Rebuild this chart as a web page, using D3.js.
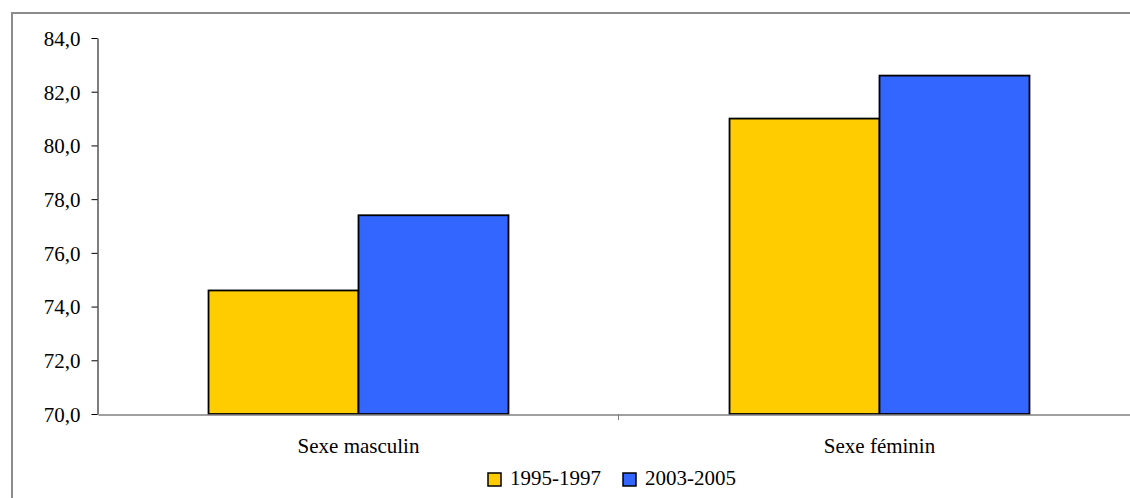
<!DOCTYPE html>
<html>
<head>
<meta charset="utf-8">
<script src="https://cdn.jsdelivr.net/npm/d3@7"></script>
<style>
  body { margin: 0; background: #fff; }
</style>
</head>
<body>
<script>
const w = 1130;
const h = 498;

const categories = ["Sexe masculin", "Sexe féminin"];
const series = ["1995-1997", "2003-2005"];
const values1995 = [74.6, 81.0];
const values2003 = [77.4, 82.6];
const yTicks = [70, 72, 74, 76, 78, 80, 82, 84];

const colors = ["#FFCC00", "#3366FF"];
const serif = "'Times New Roman', Times, Tinos, 'Liberation Serif', 'DejaVu Serif', 'Noto Serif', serif";

const plotLeft = 98;
const plotRight = 1140;
const plotTop = 38;
const plotBottom = 414;

const svg = d3.select("body")
  .append("svg")
  .attr("width", w)
  .attr("height", h);

// outer frame (runs off the right and bottom edges)
svg.append("rect")
  .attr("x", 12)
  .attr("y", 13)
  .attr("width", 1200)
  .attr("height", 600)
  .attr("fill", "none")
  .attr("stroke", "#8c8c8c")
  .attr("stroke-width", 2);

const y = d3.scaleLinear().domain([70, 84]).range([plotBottom, plotTop]);
const x0 = d3.scaleBand().domain(categories).range([plotLeft, plotRight]).padding(0);
const x1 = d3.scaleBand().domain(series).range([0, x0.bandwidth()])
  .paddingInner(0).paddingOuter(0.737);

const fmt = d => d.toFixed(1).replace(".", ",");

// y axis
const yAxis = svg.append("g")
  .attr("transform", "translate(" + (plotLeft - 0.5) + ",0)")
  .call(d3.axisLeft(y).tickValues(yTicks).tickFormat(fmt).tickSize(6).tickSizeOuter(0).tickPadding(11));
yAxis.attr("font-family", serif).attr("font-size", 21);
yAxis.select(".domain").attr("stroke", "#000");
yAxis.selectAll("line").attr("stroke", "#000");
yAxis.selectAll("text").attr("dy", "0.35em");

// bars
const rows = categories.map((c, i) => ({ cat: c, vals: [values1995[i], values2003[i]] }));

const groups = svg.append("g").selectAll("g")
  .data(rows)
  .enter()
  .append("g")
  .attr("transform", d => "translate(" + x0(d.cat) + ",0)");

groups.selectAll("rect")
  .data(d => d.vals.map((v, j) => ({ s: series[j], v: v, c: colors[j] })))
  .enter()
  .append("rect")
  .attr("x", d => x1(d.s))
  .attr("y", d => y(d.v))
  .attr("width", x1.bandwidth())
  .attr("height", d => y(70) - y(d.v))
  .attr("fill", d => d.c)
  .attr("stroke", "#000")
  .attr("stroke-width", 1.8);

// x axis
const xAxis = svg.append("g")
  .attr("transform", "translate(0," + (plotBottom + 0.5) + ")")
  .call(d3.axisBottom(x0).tickSize(0).tickSizeOuter(0).tickPadding(24));
xAxis.attr("font-family", serif).attr("font-size", 21);
xAxis.select(".domain").attr("stroke", "#808080").attr("stroke-width", 1.5);

// tick between categories
svg.append("line")
  .attr("x1", x0(categories[1]) - 0.5)
  .attr("x2", x0(categories[1]) - 0.5)
  .attr("y1", plotBottom)
  .attr("y2", plotBottom + 6)
  .attr("stroke", "#808080");

// legend
const legendPos = [488, 623];
const legend = svg.append("g")
  .attr("font-family", serif)
  .attr("font-size", 21)
  .selectAll("g")
  .data(series)
  .enter()
  .append("g")
  .attr("transform", (d, i) => "translate(" + legendPos[i] + ",473)");

legend.append("rect")
  .attr("width", 13)
  .attr("height", 13)
  .attr("fill", (d, i) => colors[i])
  .attr("stroke", "#000")
  .attr("stroke-width", 1.5);

legend.append("text")
  .attr("x", 22)
  .attr("y", 12)
  .text(d => d);
</script>
</body>
</html>
